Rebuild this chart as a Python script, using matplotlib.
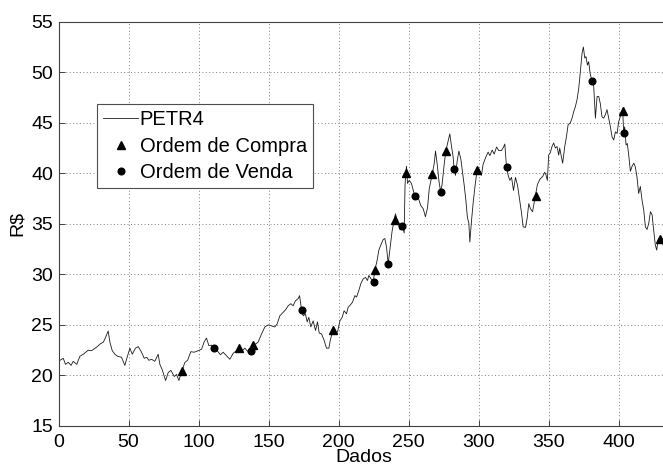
import matplotlib
matplotlib.use("Agg")
import matplotlib.pyplot as plt

plt.rcParams['font.family'] = ['Liberation Sans', 'DejaVu Sans']

# PETR4 price (day index, R$)
days = [0, 1, 3.4, 5, 7, 9, 10.5, 13, 15.3, 17.7, 21.2, 23.6, 27.2, 29.6, 32, 33.1, 35.5, 36.7,
        38.4, 40.3, 42.2, 45, 47.4, 48.6, 51, 52.7, 55, 57, 59.3, 61.2, 63, 64.6, 66.5, 68.8,
        71.2, 72.4, 74, 76.5, 78.4, 80.3, 82.7, 84.3, 86,
        88, 90.3, 92.2, 94.5, 96.9, 99.8, 102.2, 104, 105.7, 107.4, 109.3, 111, 113.6, 115.7,
        117.6, 120, 122.4, 124.8, 127.2, 129, 131.2, 133.1, 135, 137.4, 139, 140.7, 142.6, 145,
        147.4, 149.8, 152.2, 154.5, 156.2, 158.1, 160.5, 162.2, 164.1, 166, 167.6, 169.3, 171.2,
        172.2,
        173.6, 174.8, 176.4, 177.6, 178.8, 180.2, 181.9, 183.6, 185, 186.2, 187.9, 189.8, 191.4,
        193.1, 194.3, 196.2, 197.9, 199.3, 201, 202.6, 204, 205.7, 206.9, 208.6, 210, 211.7,
        212.9, 214.5, 216, 217.6, 219.3, 220.7, 221.7, 224.8, 226, 227.6, 228.8, 230.2, 231.9,
        233.1, 234.3, 235.5, 236.9, 238.3, 239.8, 240.7, 241.9, 243.1, 244, 245.7, 246.9, 247.5,
        248, 248.6, 249.3, 250.5, 252.1, 254.5, 256.9,
        258.8, 260.5, 262.1, 263.6, 264.8, 266.9, 268.3, 269.3, 270.5, 271.7, 272.9, 274, 275.5,
        276.7, 278.3, 279.5, 280.7, 281.9, 282.6, 283.6, 284.8, 286, 287.4, 288.6, 289.8, 291,
        292.1, 293.1, 293.8, 295, 296.2, 297.4, 299, 300.5, 302.1, 303.3, 305.2, 306.9, 308.1,
        309.8, 311.2, 312.9, 314.5, 316.4, 317.9, 318.8, 320, 321.2, 322.4, 323.6, 325, 326.4,
        327.9, 329.5, 330.7, 331.9, 333.6, 334.8, 335.9, 337.1, 338.6, 340.7, 342.1, 343.8,
        345.9, 347.3, 348.2, 349.2, 350.1, 351.3, 352.5, 353.7, 354.9, 356.1, 357.3, 358, 359.2,
        360.1, 361.6, 362.8, 364, 365.6, 366.8, 368, 369.2, 370.4, 371.6, 372.8, 374, 374.9,
        375.9, 376.8, 377.8, 378.7, 379.7, 381.1, 382.3, 383.5, 384.7, 385.9, 387, 388.2, 389.4,
        390.6, 391.8, 393, 394.2, 395.4, 396.6, 397.8, 399, 400.1, 401.3, 403, 403.7, 404.4,
        405.4, 406.3, 407.3, 408.5, 409.7, 410.9, 412, 413.2, 414.4, 415.6, 416.8, 418, 419.2,
        420.4, 421.6, 422.8, 424, 425.1, 426.3, 427.3, 428.2, 429.2, 430.4, 431.6, 432.3]

price = [21.1, 21.5, 21.7, 21.1, 21.3, 21.0, 21.4, 21.1, 21.9, 22.1, 22.5, 22.45, 22.8, 23.1, 23.3,
         23.6, 24.4, 23.3, 22.45, 22.1, 21.9, 21.8, 21.0, 21.6, 22.7, 22.1, 22.7, 22.85, 22.3, 21.7,
         21.8, 21.5, 21.6, 21.4, 22.1, 21.1, 20.6, 19.5, 20.3, 20.5, 19.9, 20.1, 19.5,
         20.4, 21.3, 21.5, 22.35, 22.3, 22.45, 22.6, 23.3, 23.7, 22.95, 23.0, 22.7, 22.4, 22.05,
         22.3, 21.95, 21.6, 22.2, 22.45, 22.7, 22.45, 22.7, 22.4, 22.4, 23.1, 23.1, 23.3, 24.1,
         24.8, 25.0, 24.9, 24.8, 25.1, 25.9, 26.25, 26.5, 26.9, 27.1, 26.9, 27.4, 27.6,
         27.9,
         26.5, 25.9, 26.1, 25.3, 25.75, 24.8, 25.4, 24.45, 25.3, 24.2, 24.1, 23.45, 22.7,
         22.7, 23.6, 24.5, 24.2, 24.3, 25.4, 25.75, 26.4, 26.1, 26.75, 27.0, 27.25, 27.9,
         27.75, 28.4, 29.1, 29.55, 29.7, 29.4, 29.9, 29.2, 30.45, 31.4, 32.4, 32.9, 33.45,
         33.55, 32.7, 31.05, 32.7, 34.3, 35.4, 36.0, 35.35, 34.9, 34.4, 34.8, 34.1, 38.7,
         40.0, 40.7, 39.0, 39.3, 39.0, 37.75, 37.6,
         36.8, 36.5, 35.7, 36.6, 38.45, 39.9, 40.9, 42.2, 40.9, 39.3, 38.2, 38.9, 40.9,
         42.25, 43.2, 43.9, 42.7, 41.6, 40.4, 39.8, 41.25, 42.2, 41.4, 40.1, 38.8, 37.3,
         35.6, 35.1, 33.2, 35.3, 37.1, 38.6, 40.35, 40.4, 39.8, 40.9, 41.6, 42.1, 41.75,
         42.3, 41.9, 42.6, 42.25, 42.25, 42.6, 42.9, 40.6, 39.8, 39.3, 39.6, 38.3, 39.6,
         38.8, 37.3, 36.1, 34.7, 34.65, 35.6, 37.0, 36.5, 36.2, 37.8, 38.9, 39.4,
         39.7, 40.1, 39.85, 39.3, 41.8, 42.05, 42.65, 43.0, 42.5, 42.65, 41.8, 42.5, 41.65,
         41.0, 42.65, 43.6, 44.8, 45.0, 45.45, 46.1, 46.6, 47.3, 48.4, 50.2, 51.9, 52.5,
         51.4, 51.55, 50.7, 51.05, 49.9, 49.1, 48.6, 45.45, 47.6, 47.6, 46.9, 45.6, 45.45,
         45.8, 46.3, 45.45, 44.6, 43.6, 43.3, 44.1, 43.95, 45.1, 45.6, 46.2, 44.0, 44.6,
         42.8, 42.95, 41.8, 40.2, 40.7, 41.0, 40.65, 39.65, 38.0, 38.7, 37.35, 36.4, 34.7,
         34.45, 35.05, 36.2, 35.9, 34.4, 32.9, 32.4, 33.4, 33.55, 33.05, 33.05, 32.7]

# Buy orders (triangles)
buy_days = [88, 129, 139, 196, 226, 240, 248, 267, 277, 299, 341, 403, 429.5]
buy_price = [20.4, 22.7, 23.0, 24.5, 30.4, 35.4, 40.0, 39.9, 42.25, 40.35, 37.8, 46.2, 33.55]

# Sell orders (circles)
sell_days = [111, 137.5, 174, 225, 235.5, 245.7, 254.5, 273, 282.6, 320, 381, 404]
sell_price = [22.7, 22.4, 26.5, 29.2, 31.05, 34.8, 37.75, 38.2, 40.4, 40.6, 49.1, 44.0]

series_labels = ['PETR4', 'Ordem de Compra', 'Ordem de Venda']
xticks = [0, 50, 100, 150, 200, 250, 300, 350, 400]
yticks = [15, 20, 25, 30, 35, 40, 45, 50, 55]

W, H = 663, 468
fig = plt.figure(figsize=(W / 100, H / 100), dpi=100)
x_max = 436
left_px, top_px, bottom_px = 58.5, 21.7, 426.0
width_px = x_max * 1.4
ax = fig.add_axes([left_px / W, (H - bottom_px) / H, width_px / W, (bottom_px - top_px) / H])

ax.plot(days, price, color='0.1', lw=0.6, label=series_labels[0])
ax.plot(buy_days, buy_price, linestyle='none', marker='^', color='k', markersize=5.8,
        label=series_labels[1])
ax.plot(sell_days, sell_price, linestyle='none', marker='o', color='k', markersize=4.8,
        label=series_labels[2])

ax.set_xlim(0, x_max)
ax.set_ylim(15, 55)
ax.set_xticks(xticks)
ax.set_yticks(yticks)
ax.grid(True, color='0.5', linestyle=(0, (1, 2.5)), lw=0.7)
ax.set_axisbelow(True)
ax.tick_params(direction='in', length=4, width=0.7, labelsize=14, color='0.25')
ax.tick_params(axis='x', pad=6)
ax.tick_params(axis='y', pad=4)
for s in ax.spines.values():
    s.set_color('0.25')
    s.set_linewidth(0.8)

ax.set_xlabel('Dados', fontsize=14, labelpad=-1.5)
ax.set_ylabel('R$', fontsize=14, labelpad=4)

leg = ax.legend(loc='upper left', bbox_to_anchor=(97 / W, 1 - 104 / H),
                bbox_transform=fig.transFigure, borderaxespad=0, numpoints=1,
                fontsize=14.5, handlelength=1.7, handletextpad=0.1, labelspacing=0.36,
                borderpad=0.32, fancybox=False, framealpha=1)
leg.get_frame().set_edgecolor('0.3')
leg.get_frame().set_linewidth(0.8)

fig.savefig('out.png', dpi=100)
